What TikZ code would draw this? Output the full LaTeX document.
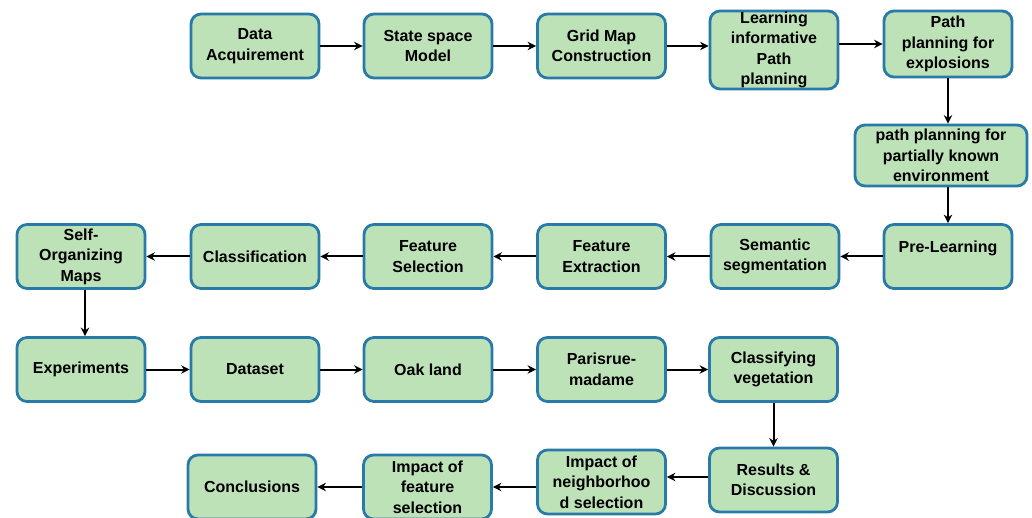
\documentclass[tikz,border=0pt]{standalone}
\usepackage{fontspec}
\setmainfont{Liberation Sans}
\usetikzlibrary{arrows.meta}
\definecolor{boxfill}{RGB}{190,226,183}
\definecolor{boxline}{RGB}{40,122,168}
\tikzset{
  box/.style={draw=boxline, fill=boxfill, line width=2.8pt, rounded corners=10pt,
    minimum width=128pt, minimum height=64pt, inner sep=0pt, align=center,
    font=\fontsize{16}{20.5}\selectfont\bfseries},
  arr/.style={line width=2pt, -{Stealth[length=8.5pt,width=8.5pt]}}
}
\begin{document}
\begin{tikzpicture}[x=1pt,y=-1pt]
\useasboundingbox (0,0) rectangle (1032,518);
\clip (0,0) rectangle (1032,518);
% row 1
\node[box] (A1) at (255,46) {Data\\Acquirement};
\node[box] (A2) at (428,46) {State space\\Model};
\node[box] (A3) at (601.5,46) {Grid Map\\Construction};
\node[box, minimum height=78pt] (A4) at (774,50) {Learning\\informative\\Path\\planning};
\node[box, minimum height=66pt] (A5) at (948,44) {Path\\planning for\\explosions};
\node[box, minimum width=172pt, minimum height=61pt] (A6) at (941,155.5) {path planning for\\partially known\\environment};
% row 2
\node[box] (B6) at (948,256.5) {Pre-Learning\\\phantom{X}};
\node[box] (B5) at (775,256.5) {Semantic\\segmentation};
\node[box] (B4) at (601.5,256.5) {Feature\\Extraction};
\node[box] (B3) at (428,256.5) {Feature\\Selection};
\node[box] (B2) at (255,256.5) {Classification};
\node[box] (B1) at (81,256.5) {Self-\\Organizing\\Maps};
% row 3
\node[box] (C1) at (81,369.5) {Experiments};
\node[box] (C2) at (255,369.5) {Dataset};
\node[box] (C3) at (428,369.5) {Oak land};
\node[box] (C4) at (601.5,369.5) {Parisrue-\\madame};
\node[box] (C5) at (773.5,369.5) {Classifying\\vegetation};
% row 4
\node[box] (D5) at (773.5,480) {Results \&\\Discussion};
\node[box] (D4) at (601.5,482) {Impact of\\neighborhoo\\d selection};
\node[box] (D3) at (427.5,487) {Impact of\\feature\\selection};
\node[box] (D2) at (252,487) {Conclusions};
% connectors
\draw[arr] (A1.east) -- (A2.west);
\draw[arr] (A2.east) -- (A3.west);
\draw[arr] (A3.east) -- (A4.west |- A3.east);
\draw[arr] (A4.east |- A5.west) -- (A5.west);
\draw[arr] (A5.south) -- (A5.south |- A6.north);
\draw[arr] (B6.north |- A6.south) -- (B6.north);
\draw[arr] (B6.west) -- (B5.east);
\draw[arr] (B5.west) -- (B4.east);
\draw[arr] (B4.west) -- (B3.east);
\draw[arr] (B3.west) -- (B2.east);
\draw[arr] (B2.west) -- (B1.east);
\draw[arr] ([xshift=4pt]B1.south) -- ([xshift=4pt]B1.south |- C1.north);
\draw[arr] (C1.east) -- (C2.west);
\draw[arr] (C2.east) -- (C3.west);
\draw[arr] (C3.east) -- (C4.west);
\draw[arr] (C4.east) -- (C5.west);
\draw[arr] (C5.south) -- (C5.south |- D5.north);
\draw[arr] ([yshift=3pt]D5.west) -- ([yshift=3pt]D5.west -| D4.east);
\draw[arr] (D4.west |- D3.east) -- (D3.east);
\draw[arr] (D3.west) -- (D2.east);
\end{tikzpicture}
\end{document}
